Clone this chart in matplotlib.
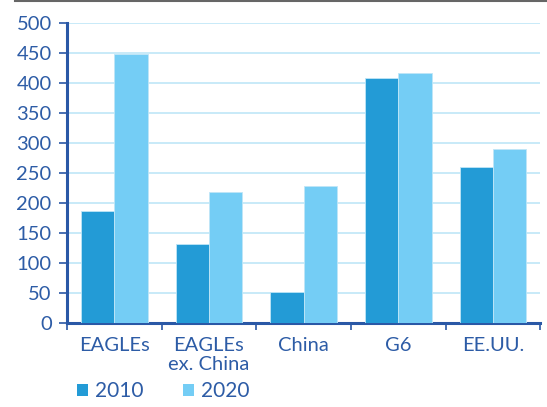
import matplotlib

matplotlib.use("Agg")
import matplotlib.pyplot as plt
import numpy as np
from matplotlib.lines import Line2D
from matplotlib.patches import Patch

categories = ["EAGLEs", "EAGLEs\nex. China", "China", "G6", "EE.UU."]
values_2010 = [187, 132, 52, 408, 260]
values_2020 = [448, 218, 228, 416, 290]
series_labels = ["2010", "2020"]
y_ticks = [0, 50, 100, 150, 200, 250, 300, 350, 400, 450, 500]

ink = "#2d5ca6"
axis_c = "#2a58a6"
grid_c = "#c4e8f8"
dark_c = "#239bd6"
light_c = "#74cdf5"

plt.rcParams["font.family"] = ["Lato", "DejaVu Sans"]

fig = plt.figure(figsize=(5.47, 4.07), dpi=100)
ax = fig.add_axes([0.1225, 0.207, 0.865, 0.7365])

x = np.arange(len(categories))
w = 0.352
ax.bar(x - w / 2, values_2010, width=w, color=dark_c, edgecolor="#bfe6f7",
       linewidth=0.6, zorder=3)
ax.bar(x + w / 2, values_2020, width=w, color=light_c, edgecolor="#bfe6f7",
       linewidth=0.6, zorder=3)

ax.set_xlim(-0.5, len(categories) - 0.5)
ax.set_ylim(0, 500)
ax.set_yticks(y_ticks)
ax.set_yticklabels([str(t) for t in y_ticks], fontsize=14.5, color=ink)
ax.set_xticks(x)
ax.set_xticklabels(categories, fontsize=14.5, color=ink, linespacing=1.2,
                   va="top")
ax.set_xticks(np.arange(len(categories) + 1) - 0.5, minor=True)
ax.tick_params(axis="x", which="major", length=0, pad=10)
ax.tick_params(axis="x", which="minor", length=5, width=1.2, color=axis_c,
               direction="out")
ax.tick_params(axis="y", length=6, width=1.2, color=axis_c, pad=5)

ax.grid(True, axis="y", color=grid_c, linewidth=1.3, zorder=0)
for spine in ("top", "right"):
    ax.spines[spine].set_visible(False)
for spine in ("left", "bottom"):
    ax.spines[spine].set_color(axis_c)
    ax.spines[spine].set_linewidth(2.2)

handles = [Patch(facecolor=dark_c, label=series_labels[0]),
           Patch(facecolor=light_c, label=series_labels[1])]
fig.legend(handles=handles, loc="lower left", bbox_to_anchor=(0.1225, -0.012),
           ncol=2, frameon=False, fontsize=15, borderpad=0, handlelength=0.5,
           handleheight=0.5, handletextpad=0.36, columnspacing=1.9,
           labelcolor=ink)

# thin gray rule across the top of the figure
fig.add_artist(Line2D([0.027, 0.998], [0.997, 0.997], transform=fig.transFigure,
                      color="#666666", linewidth=1.5))

fig.savefig("out.png", dpi=100)
